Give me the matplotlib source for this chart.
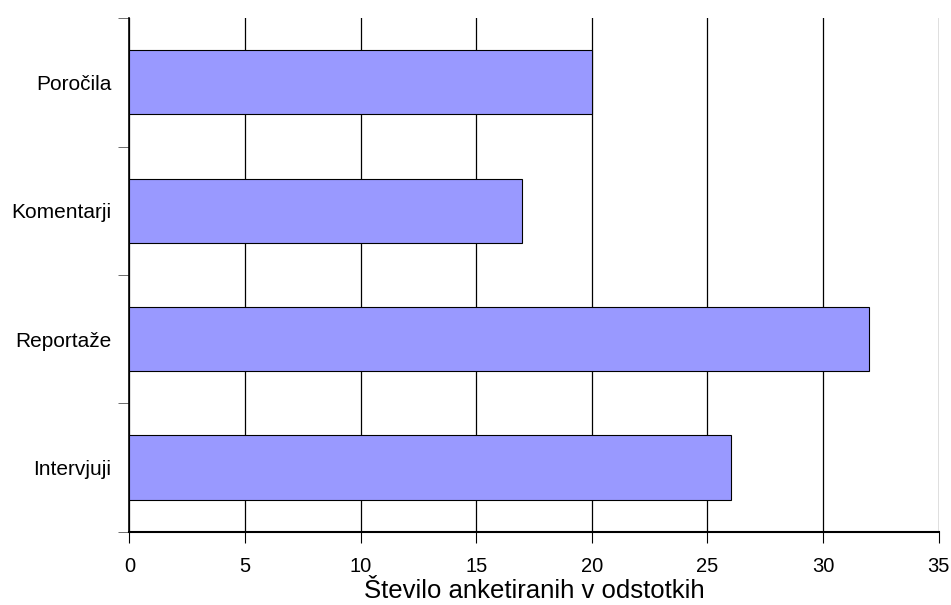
import matplotlib
matplotlib.use('Agg')
from matplotlib import pyplot as plt

# podatki
categories = ["Intervjuji", "Reportaže", "Komentarji", "Poročila"]
values = [26, 32, 17, 20]

plt.rcParams['font.family'] = ['Liberation Sans', 'DejaVu Sans']

fig = plt.figure(figsize=(9.51, 6.05), dpi=100)
ax = fig.add_axes([0.136, 0.121, 0.851, 0.849])

ys = list(range(len(categories)))
ax.barh(ys, values, height=0.5, color='#9999FF', edgecolor='black', linewidth=0.8, zorder=3)

ax.set_xlim(0, 35)
ax.set_ylim(-0.5, len(categories) - 0.5)
ax.set_xticks(range(0, 36, 5))
ax.xaxis.grid(True, color='black', linewidth=0.9, zorder=0)
ax.set_axisbelow(True)

# oznake kategorij na sredini, kljukice na mejah
ax.set_yticks(ys)
ax.set_yticklabels(categories)
ax.set_yticks([i - 0.5 for i in range(len(categories) + 1)], minor=True)
ax.tick_params(axis='y', which='major', length=0, pad=13, labelsize=15)
ax.tick_params(axis='y', which='minor', length=8, color='#555555')
ax.tick_params(axis='x', length=8, labelsize=14.5, pad=10)

for s in ['top', 'right']:
    ax.spines[s].set_visible(False)
ax.spines['left'].set_linewidth(1.2)
ax.spines['bottom'].set_linewidth(1.5)

ax.set_xlabel("Število anketiranih v odstotkih", fontsize=18.5, labelpad=2)

plt.savefig('out.png', dpi=100)
